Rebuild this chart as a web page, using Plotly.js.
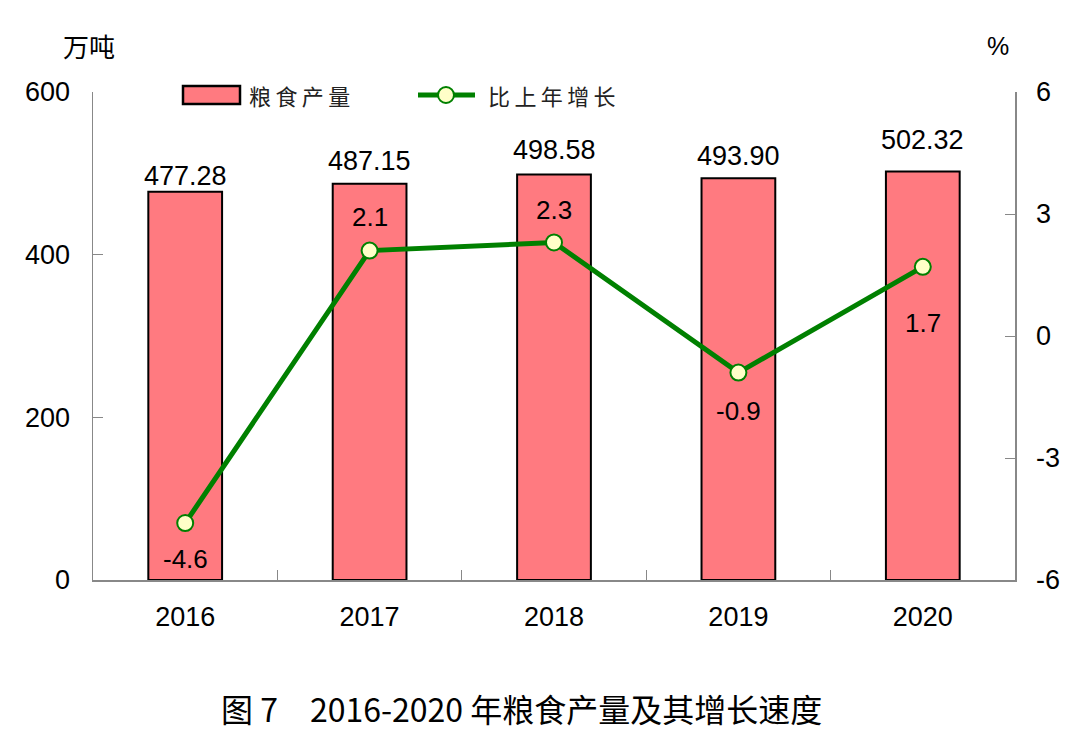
<!DOCTYPE html>
<html><head><meta charset="utf-8">
<script src="https://cdn.plot.ly/plotly-3.0.1.min.js"></script>
<style>html,body{margin:0;padding:0;background:#fff}#chart{width:1080px;height:730px}</style>
</head><body><div id="chart"></div>
<script>
const years = ['2016','2017','2018','2019','2020'];
const output = [477.28, 487.15, 498.58, 493.90, 502.32];
const growth = [-4.6, 2.1, 2.3, -0.9, 1.7];
const y2Ticks = [-6, -3, 0, 3, 6];
const y1Ticks = [0, 200, 400, 600];

// label offsets (px) — styling only
const barLabelShift = [16, 23, 24, 22, 31];
const lineLabelShift = [-36, 34, 32, -38, -56];

const sans = 'Liberation Sans, Arial, sans-serif';
const cjk = 'Noto Sans CJK SC, sans-serif';
const GREEN = '#008000', BARC = '#FF7A80';

const bar = {
  type:'bar', x:years, y:output, name:'粮食产量', showlegend:false,
  marker:{color:BARC, line:{color:'#000', width:2}}, width:0.4
};
const line = {
  type:'scatter', mode:'lines+markers', x:years, y:growth, yaxis:'y2', name:'比上年增长', showlegend:false,
  line:{color:GREEN, width:5},
  marker:{size:16, color:'#FFFFC8', line:{color:GREEN, width:2}}, cliponaxis:false
};

const annotations = [];
years.forEach((yr,i)=>{
  // category axis: numeric-looking names would be read as indices, so pass the index
  annotations.push({x:i, y:output[i], xref:'x', yref:'y', text:output[i].toFixed(2), showarrow:false,
    yanchor:'middle', yshift:barLabelShift[i], font:{family:sans, size:27, color:'#000'}});
  annotations.push({x:i, y:growth[i], xref:'x', yref:'y2', text:growth[i].toFixed(1), showarrow:false,
    yanchor:'middle', yshift:lineLabelShift[i], font:{family:sans, size:26, color:'#000'}});
});
const px = v => (v-93)/922, py = v => (580-v)/488;
annotations.push(
  {text:'粮\u2009食\u2009产\u2009量', xref:'paper', yref:'paper', x:px(247), y:py(95), xanchor:'left', yanchor:'middle',
   showarrow:false, font:{family:cjk, size:22, color:'#222'}},
  {text:'比\u2009上\u2009年\u2009增\u2009长', xref:'paper', yref:'paper', x:px(486), y:py(95), xanchor:'left', yanchor:'middle',
   showarrow:false, font:{family:cjk, size:22, color:'#222'}},
  {text:'万吨', xref:'paper', yref:'paper', x:px(89), y:py(45), xanchor:'center', yanchor:'middle',
   showarrow:false, font:{family:cjk, size:26, color:'#000'}},
  {text:'%', xref:'paper', yref:'paper', x:px(998), y:py(46), xanchor:'center', yanchor:'middle',
   showarrow:false, font:{family:sans, size:25, color:'#000'}},
  {text:'图 7　2016-2020 年粮食产量及其增长速度', xref:'paper', yref:'paper', x:px(521), y:py(708),
   xanchor:'center', yanchor:'middle', showarrow:false, font:{family:cjk, size:32, color:'#000'}}
);

const shapes = [
  {type:'rect', xref:'paper', yref:'paper', x0:px(183), x1:px(240), y0:py(104), y1:py(86),
   fillcolor:BARC, line:{color:'#000', width:2.5}},
  {type:'line', xref:'paper', yref:'paper', x0:px(418), x1:px(475), y0:py(95), y1:py(95),
   line:{color:GREEN, width:5}},
  {type:'circle', xref:'paper', yref:'paper', x0:px(438), x1:px(454), y0:py(103), y1:py(87),
   fillcolor:'#FFFFC8', line:{color:GREEN, width:2}}
];

const tickFont = {family:sans, size:27, color:'#000'};
const layout = {
  width:1080, height:730,
  margin:{l:93, r:65, t:92, b:150},
  paper_bgcolor:'#fff', plot_bgcolor:'#fff',
  showlegend:false,
  xaxis:{type:'category', range:[-0.5, 4.5], showline:true, linecolor:'#888', linewidth:1.5,
         ticks:'inside', tickson:'boundaries', ticklen:10, tickcolor:'#888',
         tickfont:tickFont, showgrid:false, zeroline:false, ticklabelstandoff:12},
  yaxis:{range:[0,600], tickvals:y1Ticks, showline:true, linecolor:'#888', linewidth:1.5,
         ticks:'inside', ticklen:10, tickcolor:'#888', showgrid:false, zeroline:false,
         tickfont:tickFont, ticklabelstandoff:16},
  yaxis2:{range:[-6,6], tickvals:y2Ticks, ticktext:y2Ticks.map(String), overlaying:'y', side:'right', showline:true,
          linecolor:'#888', linewidth:1.5, ticks:'inside', ticklen:10, tickcolor:'#888',
          showgrid:false, zeroline:false, tickfont:tickFont, ticklabelstandoff:14},
  annotations, shapes
};
Plotly.newPlot('chart', [bar, line], layout, {displayModeBar:false, staticPlot:true});
</script></body></html>
